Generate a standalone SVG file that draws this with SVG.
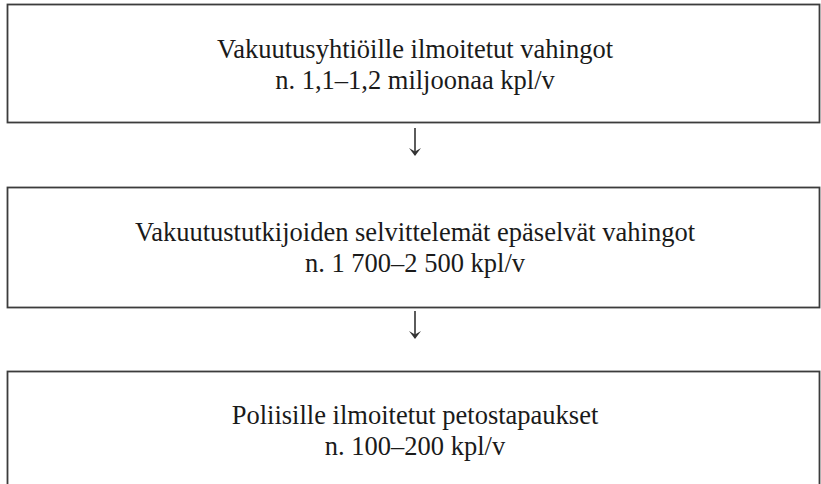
<svg xmlns="http://www.w3.org/2000/svg" width="821" height="484" viewBox="0 0 821 484">
<defs>
<style>
.box{fill:#fff;stroke:#3c3c3c;stroke-width:1.8}
.t{font-size:26.5px;fill:#1a1a1a;text-anchor:middle}
.c{stroke:#333;stroke-width:1.6;fill:none}
</style>
<marker id="ah" viewBox="0 0 12 12" refX="10" refY="6" markerWidth="12" markerHeight="12" markerUnits="userSpaceOnUse" orient="auto">
<path d="M3,0 L11,6 L3,12 L6.5,6 Z" fill="#333"/>
</marker>
</defs>
<rect width="821" height="484" fill="#fff"/>
<g id="node1">
<rect class="box" x="7.5" y="4.5" width="812" height="118"/>
<text class="t" font-family="Liberation Serif, serif" x="415" y="57.5">Vakuutusyhtiöille ilmoitetut vahingot</text>
<text class="t" font-family="Liberation Serif, serif" x="415" y="89">n. 1,1–1,2 miljoonaa kpl/v</text>
</g>
<g id="node2">
<rect class="box" x="7.5" y="187.5" width="812" height="120"/>
<text class="t" font-family="Liberation Serif, serif" x="415" y="240.5">Vakuutustutkijoiden selvittelemät epäselvät vahingot</text>
<text class="t" font-family="Liberation Serif, serif" x="415" y="272">n. 1 700–2 500 kpl/v</text>
</g>
<g id="node3">
<rect class="box" x="7.5" y="371.5" width="812" height="130"/>
<text class="t" font-family="Liberation Serif, serif" x="415" y="423.5">Poliisille ilmoitetut petostapaukset</text>
<text class="t" font-family="Liberation Serif, serif" x="415" y="455">n. 100–200 kpl/v</text>
</g>
<g id="connectors">
<line class="c" x1="415" y1="128" x2="415" y2="155" marker-end="url(#ah)"/>
<line class="c" x1="415" y1="311" x2="415" y2="338" marker-end="url(#ah)"/>
</g>
</svg>
